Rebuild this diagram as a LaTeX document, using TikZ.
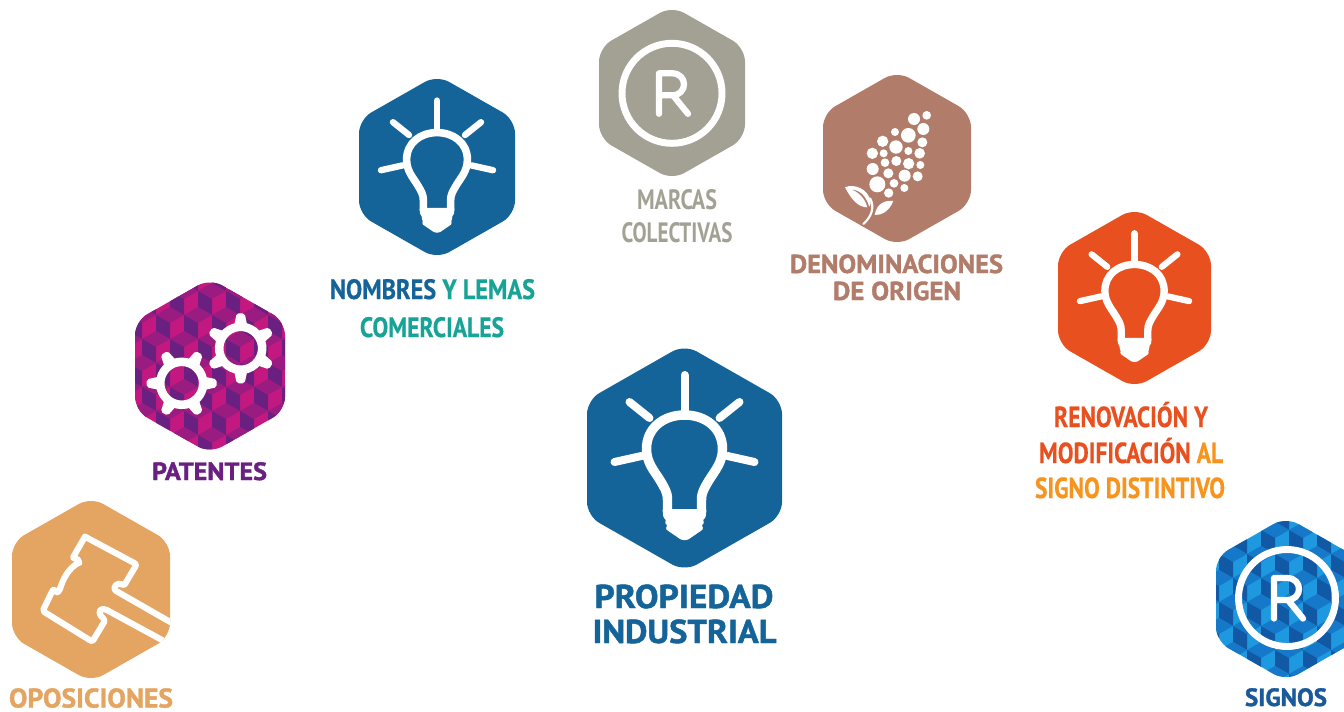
\documentclass[tikz,border=0pt]{standalone}
\usepackage{fontspec}
\usepackage{graphicx}
\setmainfont{PT Sans}
\definecolor{cBlue}{HTML}{146499}
\definecolor{cTeal}{HTML}{18A397}
\definecolor{cGrey}{HTML}{A3A194}
\definecolor{cBrown}{HTML}{B27C6A}
\definecolor{cOrange}{HTML}{E9501F}
\definecolor{cAmber}{HTML}{F7941D}
\definecolor{cSand}{HTML}{E5A562}
\definecolor{cMag}{HTML}{C2187F}
\definecolor{cMagM}{HTML}{9A1C80}
\definecolor{cPur}{HTML}{6A2080}
\definecolor{cSky}{HTML}{1E98DE}
\definecolor{cSkyM}{HTML}{1578C8}
\definecolor{cNavy}{HTML}{1259A5}
\definecolor{cSign}{HTML}{1A5A9A}
\tikzset{hexround/.style={rounded corners=10.5pt}}
\newcommand\hv{\addfontfeatures{FakeBold=1.4}}
\newcommand\mv{\addfontfeatures{FakeBold=0.6}}
% hexagon path: cx cy rx ry
\newcommand\hexp[4]{%
  (#1,{#2-(#4+4)}) -- ({#1+#3},{#2-(#4+4-#3*0.57)}) -- ({#1+#3},{#2+(#4+4-#3*0.57)}) -- (#1,{#2+(#4+4)}) -- ({#1-#3},{#2+(#4+4-#3*0.57)}) -- ({#1-#3},{#2-(#4+4-#3*0.57)}) -- cycle}
% cube tiling: px py base mid dark
\newcommand\cubes[5]{%
  \fill[#3] (0,0) rectangle (1400,720);
  \foreach \j in {-7,...,7}{\foreach \i in {-7,...,7}{%
    \pgfmathsetmacro\X{#1+28*\i+14*mod(abs(\j),2)}%
    \pgfmathsetmacro\Y{#2+24*\j}%
    \fill[#4] (\X,{\Y-16}) -- ({\X+14},{\Y-8}) -- (\X,\Y) -- ({\X-14},{\Y-8}) -- cycle;
    \fill[#5] ({\X-14},{\Y-8}) -- (\X,\Y) -- (\X,{\Y+16}) -- ({\X-14},{\Y+8}) -- cycle;
  }}}
% bulb: cx cy scale
\newcommand\bulb[3]{%
  \begin{scope}[shift={(#1,#2)},scale=#3,white,line cap=round]
    \pgfmathsetlengthmacro\lw{7.1pt*#3}%
    \pgfmathsetlengthmacro\lr{6pt*#3}%
    \draw[line width=\lw,line cap=butt] (-17,54) -- (-17,42) .. controls (-17,34) and (-20,30) .. (-24,23)
      .. controls (-30,13) and (-38,5) .. (-38,-9)
      .. controls (-38,-30) and (-21,-43) .. (0,-43) .. controls (21,-43) and (38,-30) .. (38,-9)
      .. controls (38,5) and (30,13) .. (24,23) .. controls (20,30) and (17,34) .. (17,42) -- (17,54);
    \draw[line width=\lr] (0,-43) -- (0,-83);
    \draw[line width=\lr] (-35,-40) -- (-55,-56);
    \draw[line width=\lr] (35,-40) -- (55,-56);
    \draw[line width=\lr] (-43,-2) -- (-70,4);
    \draw[line width=\lr] (43,-2) -- (70,4);
    \fill[rounded corners=1pt] (-22,51) -- (22,51) -- (21,60) -- (18,62) -- (20,65) -- (17,67) -- (19,71) -- (3,82) -- (-3,82) -- (-19,71) -- (-17,67) -- (-20,65) -- (-18,62) -- (-21,60) -- cycle;
  \end{scope}}
% registered mark
\newcommand\regmark[3]{%
  \begin{scope}[shift={(#1,#2)},white,line cap=round,line join=round]
    \draw[line width=5.2pt] (0,0) circle (#3);
    \draw[line width=4.7pt] (-13,20.5) -- (-13,-20) -- (0,-20) .. controls (16,-20) and (16,2) .. (0,2) -- (-13,2);
    \draw[line width=4.7pt] (1,2) -- (16,20.5);
  \end{scope}}
% gear: cx cy rot
\newcommand\gear[3]{%
  \begin{scope}[shift={(#1,#2)},rotate=#3,white]
    \draw[line width=6.4pt] (0,0) circle (21.5);
    \foreach \a in {0,60,...,300}{
      \fill[rotate=\a,rounded corners=1.5pt] (23,-6.5) -- (35,-4) -- (35,4) -- (23,6.5) -- cycle;}
  \end{scope}}
\newcommand\lab[6]{% name x baseline width size text
  \pgfmathsetlengthmacro\labw{#4*0.75pt}%
  \pgfmathsetlengthmacro\labf{#5*0.75pt}%
  \node[anchor=base,inner sep=0pt] (#1) at (#2,#3) {\resizebox{\labw}{\height}{\fontsize{\labf}{\labf}\selectfont\bfseries #6}};}
\begin{document}
\begin{tikzpicture}[x=0.75pt,y=-0.75pt]
\useasboundingbox (0,0) rectangle (1344,711);
\clip (0,0) rectangle (1344,711);
% central
\fill[cBlue,hexround] \hexp{684.5}{458}{97.5}{109.5};
\bulb{684.5}{458}{1}
% nombres
\fill[cBlue,hexround] \hexp{437}{167}{78}{88};
\bulb{437}{167}{0.8}
% renovacion
\fill[cOrange,hexround] \hexp{1134.5}{298}{76.5}{86};
\bulb{1134.5}{298}{0.78}
% marcas
\fill[cGrey,hexround] \hexp{672}{93}{73}{83};
\regmark{672}{93.3}{50}
% denominaciones
\fill[cBrown,hexround] \hexp{897}{158.5}{74}{83.5};
\begin{scope}[shift={(830,100)},scale=0.3333,white]
  \foreach \x/\y/\r in {252/57/18,290/46/13,280/87/18,195/96/12,235/106/22,277/127/15,158/124/17,198/141/20,235/153/12,269/160/16,127/160/17,161/160/12,165/188/13,199/183/15,236/191/17,271/195/12,128/207/18,175/220/15,224/227/18,263/229/15,142/253/24,192/250/13,223/264/12,176/279/14}
    \fill (\x,\y) circle (\r);
  \fill (45,262) .. controls (70,250) and (115,265) .. (122,305) .. controls (122,315) and (120,318) .. (118,320) .. controls (105,280) and (85,270) .. (62,268) .. controls (85,275) and (105,295) .. (112,322) .. controls (85,322) and (65,300) .. (45,262) -- cycle;
  \fill (190,303) .. controls (165,300) and (140,310) .. (134,345) .. controls (150,345) and (175,340) .. (190,303) -- cycle;
  \draw[line width=1.6pt,line cap=round] (100,372) .. controls (125,350) and (135,320) .. (120,295);
\end{scope}
% patentes
\begin{scope}
  \clip[hexround] \hexp{210}{366}{75}{83.5};
  \cubes{212}{299}{cMag}{cMagM}{cPur}
\end{scope}
\gear{240.7}{348.3}{30}
\gear{181.7}{383.3}{0}
% signos
\begin{scope}
  \clip[hexround] \hexp{1286}{599}{70}{78};
  \cubes{1275}{538}{cSky}{cSkyM}{cNavy}
\end{scope}
\regmark{1287}{598}{48.5}
% oposiciones
\fill[cSand,hexround] \hexp{91}{589.5}{79}{88.5};
\begin{scope}
  \clip[hexround] \hexp{91}{589.5}{79}{88.5};
  \begin{scope}[shift={(30,525)},scale=0.3333,white,line join=round,line cap=round]
    \draw[line width=4.6pt,rounded corners=1.5pt] (165,35) -- (320,118) -- (282,182) .. controls (262,168) and (245,190) .. (262,200) -- (440,302);
    \draw[line width=4.6pt,rounded corners=1.5pt] (165,35) -- (132,92) .. controls (128,100) and (140,100) .. (148,108) .. controls (148,112) and (110,125) .. (88,198) .. controls (80,205) and (72,190) .. (66,200) -- (38,258) -- (187,350) -- (226,285) .. controls (205,270) and (205,252) .. (225,252) -- (420,358);
  \end{scope}
\end{scope}
% labels
\lab{l1}{684}{608}{179}{33}{\hv\color{cBlue}PROPIEDAD}
\lab{l2}{684.5}{643}{184}{33}{\hv\color{cBlue}INDUSTRIAL}
\lab{l3}{677}{209}{80}{28}{\color{cGrey}MARCAS}
\lab{l4}{677}{242}{111}{28}{\color{cGrey}COLECTIVAS}
\lab{l5}{432.5}{299}{205}{28}{\mv\color{cBlue}NOMBRES \color{cTeal}Y LEMAS}
\lab{l6}{432}{337}{144}{28}{\mv\color{cTeal}COMERCIALES}
\lab{l7}{896.5}{273}{213}{26}{\hv\color{cBrown}DENOMINACIONES}
\lab{l8}{897}{300}{128}{26}{\hv\color{cBrown}DE ORIGEN}
\lab{l9}{1131}{427}{154}{29}{\mv\color{cOrange}RENOVACIÓN Y}
\lab{l10}{1131}{463}{184}{29}{\mv\color{cOrange}MODIFICACIÓN \color{cAmber}AL}
\lab{l11}{1130}{498}{190}{29}{\mv\color{cAmber}SIGNO DISTINTIVO}
\lab{l12}{209.5}{480}{115}{25}{\hv\color{cPur}PATENTES}
\lab{l13}{91}{707.5}{164}{27}{\hv\color{cSand}OPOSICIONES}
\lab{l14}{1286}{706}{82}{25}{\hv\color{cSign}SIGNOS}
\end{tikzpicture}
\end{document}
